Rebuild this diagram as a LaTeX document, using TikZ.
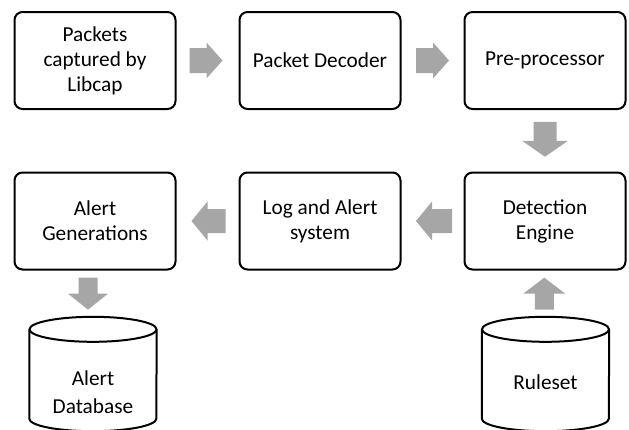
\documentclass[tikz,border=0pt]{standalone}
\usepackage{fontspec}
\setmainfont{Carlito}
\usetikzlibrary{calc}
\definecolor{arrowgray}{RGB}{166,166,166}
\tikzset{
  stage/.style={draw=black, line width=2pt, rounded corners=8pt,
    minimum width=161pt, minimum height=97pt, inner sep=0pt,
    align=center, font=\fontsize{21.3}{25}\selectfont},
  store/.style={minimum width=127pt, minimum height=114pt, inner sep=0pt},
  storeline/.style={draw=black, line width=2pt},
  storelabel/.style={align=center, font=\fontsize{21.3}{28}\selectfont},
  % block arrow pointing along +x: shaft half width / head half width / half length
  pics/blockarrow/.style args={#1/#2/#3}{code={
    \fill[arrowgray] (-#3,-#1) -- (#3-16,-#1) -- (#3-16,-#2) -- (#3,0)
      -- (#3-16,#2) -- (#3-16,#1) -- (-#3,#1) -- cycle;}}
}
% outline of a cylinder store fitted to the node #1
\newcommand{\storeoutline}[1]{%
  \draw[storeline] ($(#1.north)+(0,12.5)$) ellipse[x radius=63.5, y radius=12.5];
  \draw[storeline] ($(#1.north west)+(0,12.5)$) -- ($(#1.south west)+(0,-12.5)$)
    arc[start angle=180, end angle=0, x radius=63.5, y radius=12.5]
    -- ($(#1.north east)+(0,12.5)$);}
\begin{document}
\begin{tikzpicture}[x=1pt, y=-1pt]
  \useasboundingbox (0,0) rectangle (629,429);
  \clip (0,0) rectangle (629,429);

  % processing stages
  \node[stage] (capture)  at (95,60.5)  {Packets\\captured by\\Libcap};
  \node[stage] (decoder)  at (320,60.5) {Packet Decoder};
  \node[stage] (preproc)  at (545,60.5) {Pre-processor};
  \node[stage] (alertgen) at (95,221)   {Alert\\Generations};
  \node[stage] (logalert) at (320,221)  {Log and Alert\\system};
  \node[stage] (detect)   at (545,221)  {Detection\\Engine};

  % data stores
  \node[store] (alertdb) at (93,374) {};
  \storeoutline{alertdb}
  \node[storelabel] (alertdbtext) at ($(alertdb.center)+(0,18)$) {Alert\\Database};
  \node[store] (ruleset) at (545.5,374) {};
  \storeoutline{ruleset}
  \node[storelabel] (rulesettext) at ($(ruleset.center)+(0,8)$) {Ruleset};

  % flow arrows
  \pic at ($(capture.east)!0.5!(decoder.west)+(-1.5,0)$) {blockarrow=12.5/18/16.5};
  \pic at ($(decoder.east)!0.5!(preproc.west)$) {blockarrow=12.5/18/16.5};
  \pic[rotate=-90] at ($(preproc.south)!0.5!(detect.north)+(0,-1.5)$) {blockarrow=11.5/23/17.5};
  \pic[rotate=180] at ($(detect.west)!0.5!(logalert.east)+(1.5,0)$) {blockarrow=12/19.5/18};
  \pic[rotate=180] at ($(logalert.west)!0.5!(alertgen.east)+(1,0)$) {blockarrow=12/19.5/17};
  \pic[rotate=-90] at ($(alertgen.south)!0.5!(alertdb.north)+(-6,0)$) {blockarrow=9.5/20/16};
  \pic[rotate=90] at ($(ruleset.north)!0.5!(detect.south)+(-1,0)$) {blockarrow=9.5/21/16};
\end{tikzpicture}
\end{document}
